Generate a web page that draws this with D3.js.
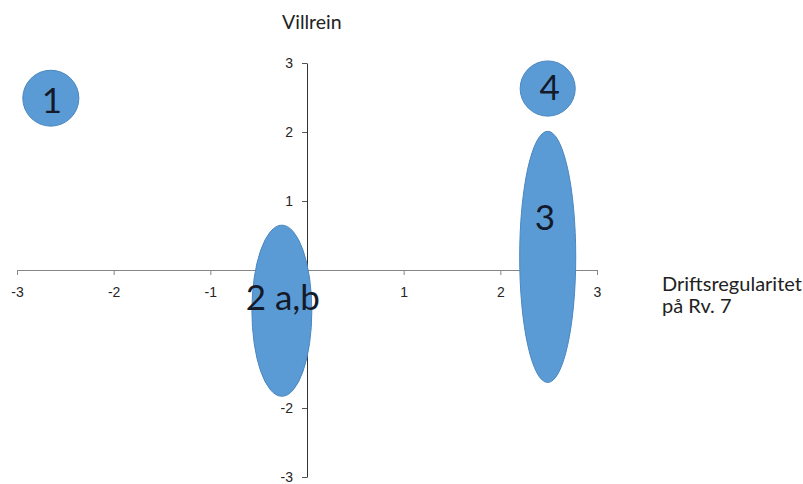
<!DOCTYPE html>
<html><head><meta charset="utf-8">
<script src="https://cdn.jsdelivr.net/npm/d3@7"></script>
<style>body{margin:0;background:#fff}svg{display:block}</style>
</head><body><svg id="c" width="803" height="484"></svg>
<script>
// Data (chart units)
const labels = ["1", "2 a,b", "3", "4"];
const centerX = [-2.65, -0.26, 2.49, 2.49];
const centerY = [2.49, -0.59, 0.19, 2.63];
const radiusX = [0.29, 0.31, 0.29, 0.285];
const radiusY = [0.405, 1.24, 1.82, 0.40];
const labelX = [-2.64, -0.25, 2.46, 2.51];
const labelY = [2.28, -0.58, 0.58, 2.46];
const xTicks = [-3, -2, -1, 1, 2, 3];
const yTicks = [3, 2, 1, -1, -2, -3];
const yTitle = "Villrein";
const xTitle = ["Driftsregularitet", "på Rv. 7"];

const svg = d3.select("#c");
const x = d3.scaleLinear().domain([-3, 3]).range([17, 597]);
const y = d3.scaleLinear().domain([-3, 3]).range([477, 63]);
const fmt = d => String(d);

// axes
const gx = svg.append("g").attr("transform", `translate(0,${y(0)})`)
  .call(d3.axisBottom(x).tickValues(xTicks).tickSize(5).tickSizeOuter(0).tickPadding(12).tickFormat(fmt));
gx.attr("font-size", 14).attr("font-family", "'Liberation Sans', Arial, sans-serif");
gx.select(".domain").attr("stroke", "#868686");
gx.selectAll(".tick line").attr("stroke", "#868686");
gx.selectAll("text").attr("fill", "#262626");

const gy = svg.append("g").attr("transform", `translate(${x(0)},0)`)
  .call(d3.axisLeft(y).tickValues(yTicks).tickSize(5).tickSizeOuter(0).tickPadding(9).tickFormat(fmt));
gy.attr("font-size", 14).attr("font-family", "'Liberation Sans', Arial, sans-serif");
gy.select(".domain").attr("stroke", "#333");
gy.selectAll(".tick line").attr("stroke", "#555");
gy.selectAll("text").attr("fill", "#262626");

// ellipses
const idx = d3.range(labels.length);
svg.append("g").selectAll("ellipse").data(idx).join("ellipse")
  .attr("cx", i => x(centerX[i]))
  .attr("cy", i => y(centerY[i]))
  .attr("rx", i => x(radiusX[i]) - x(0))
  .attr("ry", i => y(0) - y(radiusY[i]))
  .attr("fill", "#5b9bd5")
  .attr("stroke", "#4a87c0")
  .attr("stroke-width", 1);

svg.append("g").selectAll("text").data(idx).join("text")
  .attr("x", i => x(labelX[i]))
  .attr("y", i => y(labelY[i]))
  .attr("text-anchor", "middle")
  .style("font-family", "Lato, 'Open Sans', sans-serif")
  .style("font-size", "35px")
  .attr("fill", "#141a2a")
  .text(i => labels[i]);

// titles
svg.append("text").attr("x", 282).attr("y", 29)
  .style("font-family", "Lato, 'Open Sans', sans-serif").style("font-size", "19.5px").attr("fill", "#222")
  .text(yTitle);
svg.append("text").attr("x", 662).attr("y", 291)
  .style("font-family", "Lato, 'Open Sans', sans-serif").style("font-size", "20px").attr("fill", "#222")
  .selectAll("tspan").data(xTitle).join("tspan")
  .attr("x", 662).attr("dy", (d, i) => i ? 22 : 0).text(d => d);
</script></body></html>
